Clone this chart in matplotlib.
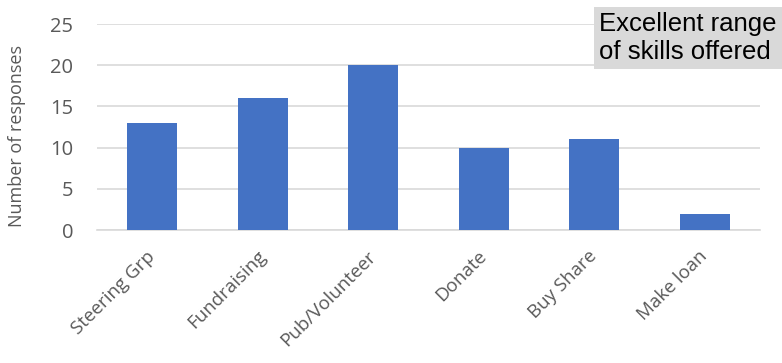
import matplotlib.pyplot as plt
import numpy as np

# survey: how people would like to help
categories = ["Steering Grp", "Fundraising", "Pub/Volunteer", "Donate", "Buy Share", "Make loan"]
responses = [13, 16, 20, 10, 11, 2]
yticks = [0, 5, 10, 15, 20, 25]

plt.rcParams['font.family'] = ['Open Sans', 'DejaVu Sans']

fig = plt.figure(figsize=(7.82, 3.63), dpi=100)
ax = fig.add_axes([97/782, 1 - 230/363, 663/782, (230 - 24)/363])

x = np.arange(len(categories))
ax.bar(x, responses, width=0.45, color='#4472c4', zorder=3)

ax.set_xlim(-0.5, len(categories) - 0.5)
ax.set_ylim(0, 25)
ax.set_yticks(yticks)
ax.yaxis.grid(True, color='#d9d9d9', linewidth=1.2, zorder=0)
ax.set_xticks(x)
ax.set_xticklabels(categories, rotation=45, ha='right', va='center',
                   rotation_mode='anchor')
ax.tick_params(axis='both', length=0, colors='#595959')
ax.tick_params(axis='y', pad=17, labelsize=14.5)
ax.tick_params(axis='x', pad=17, labelsize=13.5)
for s in ['top', 'right', 'left']:
    ax.spines[s].set_visible(False)
ax.spines['bottom'].set_color('#d9d9d9')
ax.spines['bottom'].set_linewidth(1.2)
ax.set_ylabel("Number of responses", fontsize=13, color='#595959')
ax.yaxis.set_label_coords(-0.107, 0.455)

fig.text(599/782, 1 - 38/363, "Excellent range\nof skills offered", fontsize=18.5,
         family='Liberation Sans', color='black', va='center', ha='left',
         linespacing=1.2,
         bbox=dict(boxstyle='square,pad=0.2', facecolor='#d9d9d9', edgecolor='none'))

fig.savefig("out.png", dpi=100)
